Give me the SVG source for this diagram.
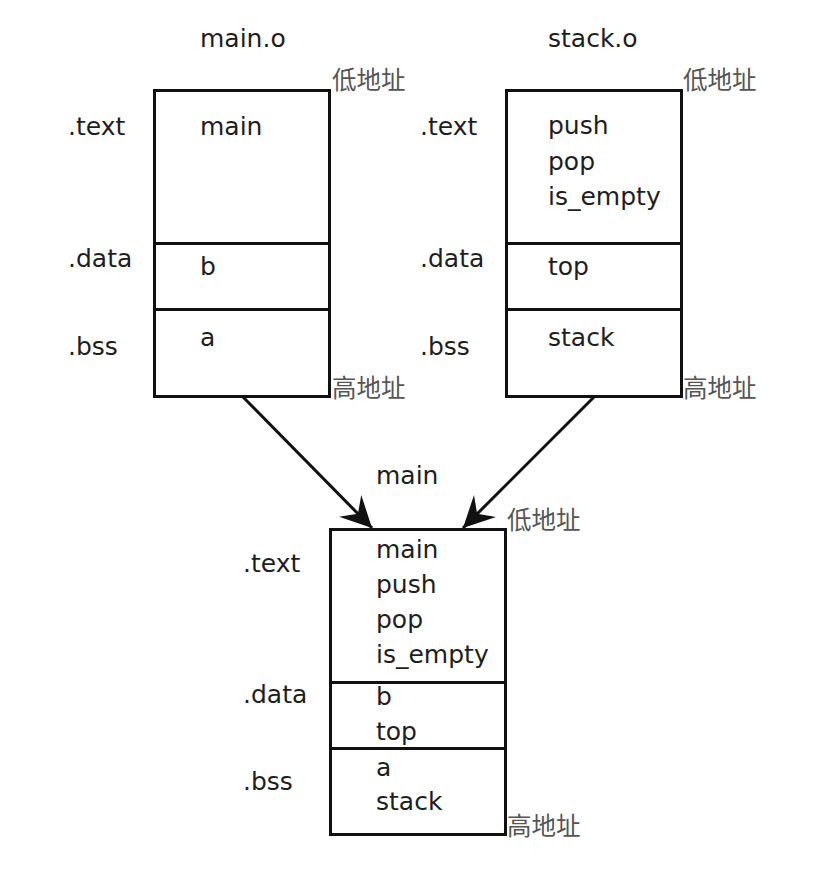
<svg xmlns="http://www.w3.org/2000/svg" width="834" height="888" viewBox="0 0 834 888">
<style>
.t{font-family:"DejaVu Sans",sans-serif;font-size:25px;fill:#1e1e1e}
.c{font-family:"Noto Sans CJK SC",sans-serif;font-size:24.5px;fill:#555}
.b{fill:#fff;stroke:#111;stroke-width:3}
.d{stroke:#111;stroke-width:3}
.a{fill:none;stroke:#111;stroke-width:3}
</style>
<defs>
<marker id="ah" markerUnits="userSpaceOnUse" markerWidth="40" markerHeight="40" viewBox="-32 -18 36 36" refX="0" refY="0" orient="auto">
<path d="M0,0 L-28,-14 L-18,0 L-28,14 Z" fill="#111"/>
</marker>
</defs>
<rect width="834" height="888" fill="#fff"/>

<g id="main_o">
<text class="t" x="200" y="47">main.o</text>
<rect class="b" x="154.5" y="90.5" width="175" height="306"/>
<line class="d" x1="154.5" y1="243.5" x2="329.5" y2="243.5"/>
<line class="d" x1="154.5" y1="309.5" x2="329.5" y2="309.5"/>
<text class="t" x="68" y="135">.text</text>
<text class="t" x="68" y="267">.data</text>
<text class="t" x="68" y="355">.bss</text>
<text class="t" x="200" y="135">main</text>
<text class="t" x="200" y="275">b</text>
<text class="t" x="200" y="346">a</text>
<text class="c" x="332" y="89">低地址</text>
<text class="c" x="332" y="397">高地址</text>
</g>

<g id="stack_o">
<text class="t" x="548" y="47">stack.o</text>
<rect class="b" x="506.5" y="90.5" width="175" height="306"/>
<line class="d" x1="506.5" y1="243.5" x2="681.5" y2="243.5"/>
<line class="d" x1="506.5" y1="309.5" x2="681.5" y2="309.5"/>
<text class="t" x="420" y="135">.text</text>
<text class="t" x="420" y="267">.data</text>
<text class="t" x="420" y="355">.bss</text>
<text class="t" x="548" y="134">push</text>
<text class="t" x="548" y="169.5">pop</text>
<text class="t" x="548" y="205">is_empty</text>
<text class="t" x="548" y="275">top</text>
<text class="t" x="548" y="346">stack</text>
<text class="c" x="683" y="89">低地址</text>
<text class="c" x="683" y="397">高地址</text>
</g>

<g id="main">
<text class="t" x="376" y="484">main</text>
<rect class="b" x="330.5" y="529.5" width="175" height="305"/>
<line class="d" x1="330.5" y1="682.5" x2="505.5" y2="682.5"/>
<line class="d" x1="330.5" y1="748.5" x2="505.5" y2="748.5"/>
<text class="t" x="243" y="572">.text</text>
<text class="t" x="243" y="703">.data</text>
<text class="t" x="243" y="790">.bss</text>
<text class="t" x="376" y="558">main</text>
<text class="t" x="376" y="593">push</text>
<text class="t" x="376" y="628">pop</text>
<text class="t" x="376" y="663">is_empty</text>
<text class="t" x="376" y="705">b</text>
<text class="t" x="376" y="740">top</text>
<text class="t" x="376" y="776">a</text>
<text class="t" x="376" y="810">stack</text>
<text class="c" x="507" y="529">低地址</text>
<text class="c" x="507" y="835">高地址</text>
</g>

<g id="connectors">
<path class="a" d="M243,397 L372,528" marker-end="url(#ah)"/>
<path class="a" d="M594,397 L463,528" marker-end="url(#ah)"/>
</g>
</svg>
